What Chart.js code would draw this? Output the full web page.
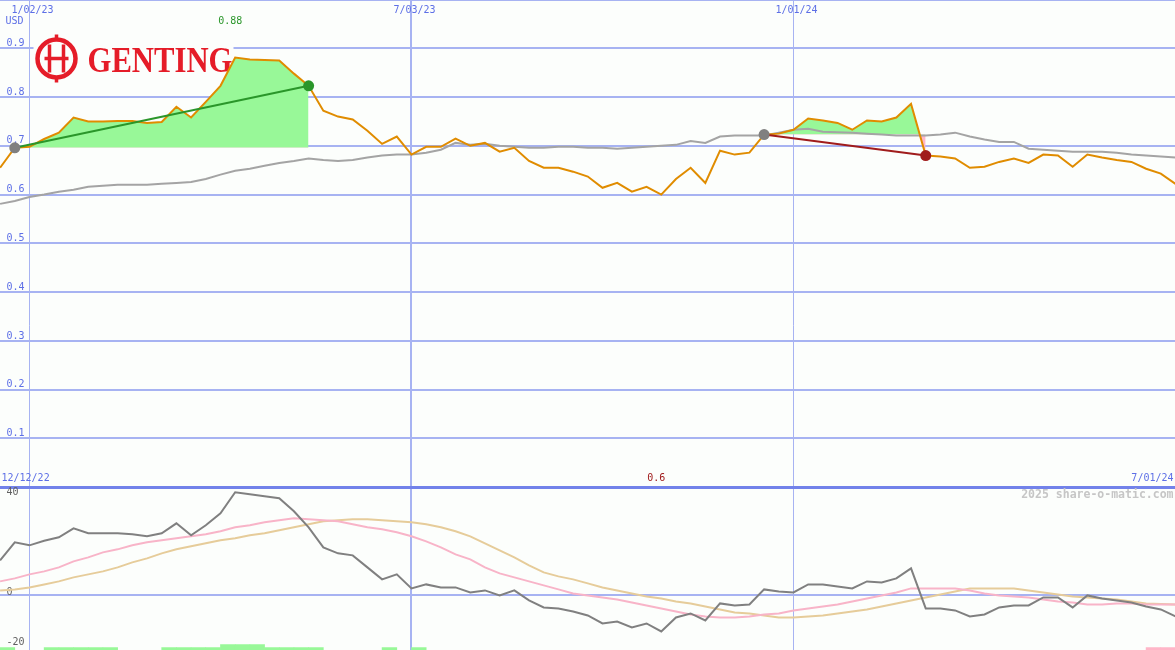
<!DOCTYPE html>
<html>
<head>
<meta charset="utf-8">
<title>Genting</title>
<script src="https://cdn.jsdelivr.net/npm/chart.js@4.4.1/dist/chart.umd.min.js"></script>
<style>
  html, body { margin: 0; padding: 0; background: #fcfefc; overflow: hidden; }
  #wrap { width: 1175px; height: 650px; position: relative; overflow: hidden; }
  #genting { position: absolute; left: -6px; top: -6px; }
</style>
</head>
<body>
<div id="wrap"><canvas id="genting" width="1187" height="662"></canvas></div>
<script>
// weekly data, first point is week -2 (week 0 = 1/02/23)
const firstWeek = -2;

const price = [
  0.655, 0.696, 0.698, 0.714, 0.727, 0.758, 0.750, 0.750, 0.751, 0.751,
  0.747, 0.749, 0.780, 0.758, 0.790, 0.823, 0.881, 0.877, 0.876, 0.875,
  0.848, 0.823, 0.772, 0.760, 0.754, 0.731, 0.704, 0.719, 0.682, 0.698,
  0.698, 0.715, 0.700, 0.706, 0.688, 0.696, 0.669, 0.655, 0.655, 0.647,
  0.637, 0.614, 0.624, 0.606, 0.616, 0.600, 0.632, 0.655, 0.624, 0.690,
  0.682, 0.686, 0.723, 0.725, 0.733, 0.756, 0.752, 0.747, 0.733, 0.752,
  0.750, 0.758, 0.786, 0.680, 0.678, 0.674, 0.655, 0.657, 0.667, 0.674,
  0.665, 0.682, 0.680, 0.657, 0.682, 0.676, 0.671, 0.667, 0.653, 0.643,
  0.622
];

const priceAvg = [
  0.581, 0.587, 0.595, 0.600, 0.606, 0.610, 0.616, 0.618, 0.620, 0.620,
  0.620, 0.622, 0.624, 0.626, 0.632, 0.641, 0.649, 0.653, 0.659, 0.665,
  0.669, 0.674, 0.671, 0.669, 0.671, 0.676, 0.680, 0.682, 0.682, 0.686,
  0.692, 0.706, 0.702, 0.704, 0.700, 0.698, 0.696, 0.696, 0.698, 0.698,
  0.696, 0.696, 0.694, 0.696, 0.698, 0.700, 0.702, 0.710, 0.706, 0.719,
  0.721, 0.721, 0.721, 0.727, 0.733, 0.735, 0.729, 0.728, 0.727, 0.725,
  0.723, 0.721, 0.721, 0.721, 0.723, 0.727, 0.719, 0.713, 0.708, 0.708,
  0.694, 0.692, 0.690, 0.688, 0.688, 0.688, 0.686, 0.682, 0.680, 0.678,
  0.676
];

const osc = [
  14, 21.2, 20, 21.8, 23.2, 26.8, 24.8, 24.8, 24.8, 24.4,
  23.6, 24.8, 28.8, 24, 28, 32.8, 41.2, 40.4, 39.6, 38.8,
  33.6, 27.2, 19.2, 16.8, 16, 11.2, 6.4, 8.4, 2.8, 4.4,
  3.2, 3.2, 1.2, 2, 0, 2, -2, -4.8, -5.2, -6.4,
  -8, -11.2, -10.4, -12.8, -11.2, -14.4, -8.8, -7.2, -10, -3.2,
  -4, -3.6, 2.4, 1.6, 1.2, 4.4, 4.4, 3.6, 2.8, 5.6,
  5.2, 6.8, 10.8, -5.2, -5.2, -6, -8.4, -7.6, -4.8, -4,
  -4, -0.8, -0.8, -4.8, 0, -1.2, -2, -2.8, -4.4, -5.6,
  -8.4
];

const oscFast = [
  5.6, 6.8, 8.4, 9.6, 11.2, 13.6, 15.2, 17.2, 18.4, 20,
  21.2, 22, 22.8, 23.6, 24.4, 25.6, 27.2, 28, 29.2, 30,
  30.8, 30.4, 30, 29.6, 28.4, 27.2, 26.4, 25.2, 23.6, 21.6,
  19.2, 16.4, 14.4, 11.2, 8.8, 7.2, 5.6, 4, 2.4, 0.8,
  0, -0.8, -1.6, -2.8, -4, -5.2, -6.4, -7.6, -8.4, -8.8,
  -8.8, -8.4, -7.6, -7.2, -6, -5.2, -4.4, -3.6, -2.4, -1.2,
  0, 1.2, 2.8, 2.8, 2.8, 2.8, 2, 0.8, 0, -0.4,
  -0.8, -1.6, -2.4, -2.8, -3.6, -3.6, -3.2, -3.2, -3.6, -3.6,
  -3.6
];

const oscSlow = [
  2, 2.4, 3.2, 4.4, 5.6, 7.2, 8.4, 9.6, 11.2, 13.2,
  14.8, 16.8, 18.4, 19.6, 20.8, 22, 22.8, 24, 24.8, 26,
  27.2, 28.4, 29.6, 30, 30.4, 30.4, 30, 29.6, 29.2, 28.4,
  27.2, 25.6, 23.6, 20.8, 18, 15.2, 12, 9.2, 7.6, 6.4,
  4.8, 3.2, 2, 0.8, -0.4, -1.2, -2.4, -3.2, -4.4, -5.6,
  -6.8, -7.2, -8, -8.8, -8.8, -8.4, -8, -7.2, -6.4, -5.6,
  -4.4, -3.2, -2, -0.8, 0.4, 1.6, 2.8, 2.8, 2.8, 2.8,
  2, 1.2, 0.4, -0.4, -0.8, -1.2, -1.6, -2.4, -3.2, -3.4,
  -3.6
];

// signal strip, one entry per week interval (1 / 2 = green, -1 = pink)
const signal = [
  1, 0, 0, 1, 1, 1, 1, 1, 0, 0,
  0, 1, 1, 1, 1, 2, 2, 2, 1, 1,
  1, 1, 0, 0, 0, 0, 1, 0, 1, 0,
  0, 0, 0, 0, 0, 0, 0, 0, 0, 0,
  0, 0, 0, 0, 0, 0, 0, 0, 0, 0,
  0, 0, 0, 0, 0, 0, 0, 0, 0, 0,
  0, 0, 0, 0, 0, 0, 0, 0, 0, 0,
  0, 0, 0, 0, 0, 0, 0, 0, -1, -1
];

// trend windows (start week, end week)
const trendUp = [-1, 19];
const trendDown = [50, 61];

const dateTickWeeks = [0, 26, 52];
const dateTickLabels = ['1/02/23', '7/03/23', '1/01/24'];
const oscTicks = [-20, 0, 40];
const rangeLabels = ['12/12/22', '7/01/24'];

const blue = '#5d6fe6';
const gridBlue = '#a7b3f2';
const mono = "'DejaVu Sans Mono', monospace";

function pts(values) {
  return values.map((v, i) => ({x: firstWeek + i, y: v}));
}
function priceAt(week) {
  return price[week - firstWeek];
}
function windowPts(win) {
  return pts(price).filter(p => p.x >= win[0] && p.x <= win[1]);
}
function noPad(s) {
  s.paddingLeft = s.paddingRight = s.paddingTop = s.paddingBottom = 0;
}

const y2min = -22, y2max = 43.2;
const signalBars = signal.map((s, i) => ({
  x: firstWeek + i + 0.5,
  y: s === 0 ? null : y2min + Math.abs(s) * 1.2
}));
const signalColors = signal.map(s => s < 0 ? '#ffb6c8' : '#98f898');

const maxIdx = price.indexOf(Math.max(...price));
const minIdx = price.indexOf(Math.min(...price));

const logoPlugin = {
  id: 'logo',
  beforeDatasetsDraw(chart) {
    const ctx = chart.ctx;
    const ca = chart.chartArea;
    ctx.save();
    ctx.translate(ca.left, ca.top);
    ctx.fillStyle = '#fcfefc';
    ctx.fillRect(34, 33, 200, 52);
    ctx.strokeStyle = '#e51c28';
    ctx.fillStyle = '#e51c28';
    ctx.lineWidth = 4.5;
    ctx.beginPath();
    ctx.arc(57, 59, 19, 0, Math.PI * 2);
    ctx.stroke();
    ctx.lineWidth = 3.5;
    ctx.beginPath();
    ctx.moveTo(50, 45); ctx.lineTo(50, 73);
    ctx.moveTo(64, 45); ctx.lineTo(64, 73);
    ctx.moveTo(45, 59); ctx.lineTo(69, 59);
    ctx.moveTo(57, 35); ctx.lineTo(57, 41);
    ctx.moveTo(57, 77); ctx.lineTo(57, 83);
    ctx.stroke();
    ctx.font = "bold 36px 'Liberation Serif'";
    ctx.textBaseline = 'alphabetic';
    const w = ctx.measureText('GENTING').width;
    ctx.translate(88, 72);
    ctx.scale(145 / w, 1);
    ctx.fillText('GENTING', 0, 0);
    ctx.restore();
  }
};

const notesPlugin = {
  id: 'notes',
  afterDraw(chart) {
    const ctx = chart.ctx;
    const ca = chart.chartArea;
    const xs = chart.scales.x;
    const ox = ca.left, oy = ca.top;
    ctx.save();
    ctx.textBaseline = 'middle';
    ctx.font = '10px ' + mono;
    ctx.fillStyle = blue;
    ctx.textAlign = 'left';
    ctx.fillText('USD', ox + 6, oy + 22);
    ctx.fillText(rangeLabels[0], ox + 2, oy + 479);
    ctx.textAlign = 'right';
    ctx.fillText(rangeLabels[1], ca.right - 2, oy + 479);
    ctx.textAlign = 'center';
    ctx.fillStyle = '#2a962a';
    ctx.fillText(String(+price[maxIdx].toFixed(2)), xs.getPixelForValue(firstWeek + maxIdx) - 5, oy + 22);
    ctx.fillStyle = '#a01c1c';
    ctx.fillText(String(+price[minIdx].toFixed(2)), xs.getPixelForValue(firstWeek + minIdx) - 5, oy + 479);
    ctx.textAlign = 'right';
    ctx.font = 'bold 11.5px ' + mono;
    ctx.fillStyle = '#c6c6c6';
    ctx.fillText('2025 share-o-matic.com', ca.right - 2, oy + 496);
    ctx.restore();
  }
};

const line = (data, color, axis, width) => ({
  type: 'line', data, yAxisID: axis, borderColor: color, borderWidth: width,
  pointRadius: 0, fill: false, tension: 0
});

const trend = (win, color) => ({
  type: 'line',
  data: [{x: win[0], y: priceAt(win[0])}, {x: win[1], y: priceAt(win[1])}],
  yAxisID: 'y', borderColor: color, borderWidth: 2, fill: false,
  pointRadius: 5.5, pointBorderWidth: 0,
  pointBackgroundColor: ['#808080', color]
});

const area = win => ({
  type: 'line', data: windowPts(win), yAxisID: 'y',
  borderWidth: 0, borderColor: 'rgba(0,0,0,0)', pointRadius: 0,
  fill: {value: priceAt(win[0]), above: '#98f898', below: '#ffb6c8'}
});

new Chart(document.getElementById('genting'), {
  data: {
    datasets: [
      trend(trendUp, '#2a962a'),
      trend(trendDown, '#a01c1c'),
      line(pts(price), '#e08c00', 'y', 2),
      line(pts(priceAvg), '#a4a4a4', 'y', 2),
      area(trendUp),
      area(trendDown),
      line(pts(osc), '#808080', 'y2', 2),
      line(pts(oscFast), '#f8b4c8', 'y2', 2),
      line(pts(oscSlow), '#e6cc9a', 'y2', 2),
      {
        type: 'bar', data: signalBars, yAxisID: 'y2', base: y2min,
        backgroundColor: signalColors, borderWidth: 0,
        barPercentage: 1, categoryPercentage: 1
      }
    ]
  },
  options: {
    responsive: false,
    devicePixelRatio: 1,
    animation: false,
    layout: {padding: 0},
    plugins: {legend: {display: false}, tooltip: {enabled: false}},
    scales: {
      x: {
        type: 'linear', position: 'top', min: -2.04, max: 78, offset: false,
        afterBuildTicks: s => { s.ticks = dateTickWeeks.map(v => ({value: v})); },
        afterFit: s => { s.height = 0; noPad(s); },
        border: {display: false},
        grid: {
          color: gridBlue, drawTicks: false, offset: false,
          lineWidth: c => (c.tick && c.tick.value === 26) ? 2 : 1
        },
        ticks: {
          mirror: true, padding: 5, labelOffset: 3, autoSkip: false, maxRotation: 0,
          color: blue, font: {family: mono, size: 10},
          callback: v => dateTickLabels[dateTickWeeks.indexOf(v)]
        }
      },
      y: {
        type: 'linear', position: 'left', stack: 'panels', stackWeight: 487, weight: 2,
        min: 0, max: 1,
        afterFit: s => { s.width = 0; noPad(s); },
        border: {display: false},
        grid: {
          drawTicks: false,
          color: c => c.tick.value === 0 ? '#7282ea' : gridBlue,
          lineWidth: c => c.tick.value === 0 ? 3 : 2
        },
        ticks: {
          stepSize: 0.1, mirror: true, padding: 7, labelOffset: -5,
          color: blue, font: {family: mono, size: 10},
          callback: v => (v > 0.01 && v < 0.99) ? v.toFixed(1) : ''
        }
      },
      y2: {
        type: 'linear', position: 'left', stack: 'panels', stackWeight: 163, weight: 1,
        min: y2min, max: y2max,
        afterBuildTicks: s => { s.ticks = oscTicks.map(v => ({value: v})); },
        afterFit: s => { s.width = 0; noPad(s); },
        border: {display: false},
        grid: {
          drawTicks: false, lineWidth: 2,
          color: c => c.tick.value === 0 ? gridBlue : 'rgba(0,0,0,0)'
        },
        ticks: {
          mirror: true, padding: 7, labelOffset: -3,
          color: '#606060', font: {family: mono, size: 10},
          callback: v => String(v)
        }
      }
    }
  },
  plugins: [logoPlugin, notesPlugin]
});
</script>
</body>
</html>
